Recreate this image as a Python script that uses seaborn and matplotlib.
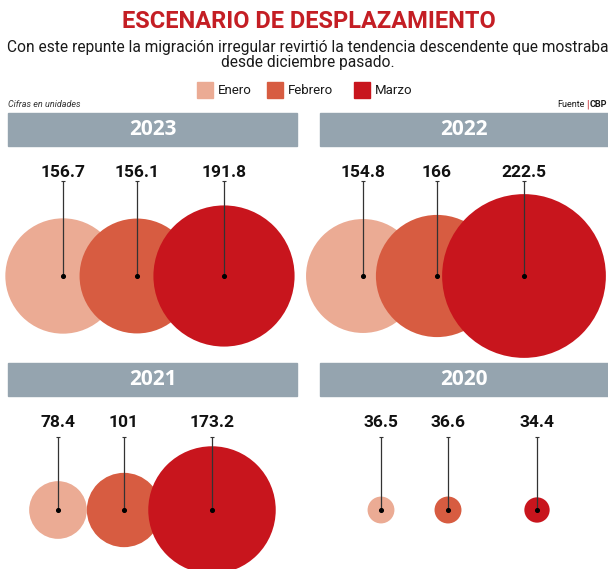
import numpy as np
import pandas as pd
import matplotlib
matplotlib.use("Agg")
import matplotlib.pyplot as plt
import seaborn as sns
from matplotlib.patches import Rectangle

# data (values in thousands, as printed)
years = ["2023", "2022", "2021", "2020"]
months = ["Enero", "Febrero", "Marzo"]
enero = [156.7, 154.8, 78.4, 36.5]
febrero = [156.1, 166, 101, 36.6]
marzo = [191.8, 222.5, 173.2, 34.4]

title = "ESCENARIO DE DESPLAZAMIENTO"
subtitle = ("Con este repunte la migración irregular revirtió la tendencia descendente que mostraba\n"
            "desde diciembre pasado.")

month_colors = {"Enero": "#EBAB94", "Febrero": "#D75C41", "Marzo": "#C8151D"}

# layout (pixels, figure is 608x569)
W, H = 608, 569
panel_origin = {"2023": (0, 110), "2022": (304, 110), "2021": (0, 360), "2020": (304, 360)}
slot_x = {"2023": [63, 137, 224], "2022": [59, 133, 220],
          "2021": [58, 124, 212], "2020": [77, 144, 233]}
bar_x = {"2023": (8, 297), "2022": (16, 304), "2021": (8, 297), "2020": (16, 304)}
center_dy = {"2023": 166, "2022": 166, "2021": 150, "2020": 150}
label_dy = 62
line_top_dy = {"2023": 71, "2022": 71, "2021": 77, "2020": 77}
K = 0.368  # radius in px per unit

FONT = ["Roboto", "DejaVu Sans"]

sns.set_theme(style="white")
plt.rcParams["font.family"] = FONT

rows = []
for i, yr in enumerate(years):
    ox, oy = panel_origin[yr]
    for j, (m, vals) in enumerate(zip(months, [enero, febrero, marzo])):
        rows.append({"year": yr, "month": m, "value": vals[i],
                     "x": ox + slot_x[yr][j], "y": oy + center_dy[yr],
                     "top": oy + line_top_dy[yr], "label_y": oy + label_dy})
df = pd.DataFrame(rows)

px2pt = 72 / 100
size_map = {v: (2 * K * v * px2pt) ** 2 for v in df["value"]}

fig = plt.figure(figsize=(W / 100, H / 100), dpi=100)
ax = fig.add_axes([0, 0, 1, 1])

sns.scatterplot(data=df, x="x", y="y", hue="month", palette=month_colors,
                size="value", sizes=size_map, legend=False, linewidth=0,
                ax=ax, zorder=2)

# header bars
for yr in years:
    ox, oy = panel_origin[yr]
    x0, x1 = bar_x[yr]
    ax.add_patch(Rectangle((ox + x0, oy + 3), x1 - x0, 33, color="#95A4AF", zorder=1))
    ax.text(ox + (x0 + x1) / 2, oy + 19.5, yr, ha="center", va="center",
            fontsize=15, fontweight="bold", color="white", family=["Open Sans", "DejaVu Sans"])

# leader lines, dots and value labels
ax.vlines(df["x"], df["top"], df["y"], color="#333333", lw=0.9, zorder=3)
ax.scatter(df["x"], df["y"], s=7, color="black", zorder=4)
ax.scatter(df["x"], df["top"], s=10, marker="_", color="#333333", lw=0.8, zorder=4)
for _, r in df.iterrows():
    ax.text(r["x"], r["label_y"], f"{r['value']:g}", ha="center", va="center",
            fontsize=12.5, fontweight="bold", color="#111111")

# titles
ax.text(309, 21, title, ha="center", va="center", fontsize=17,
        fontweight="bold", color="#C41E24")
ax.text(308, 55, subtitle, ha="center", va="center", fontsize=11.2,
        color="#1a1a1a", linespacing=1.0)

# legend
for m, sx in zip(months, [197, 267, 354]):
    ax.add_patch(Rectangle((sx, 82), 16, 16, color=month_colors[m]))
    ax.text(sx + 21, 90.5, m, ha="left", va="center", fontsize=9.5, color="#1a1a1a")

ax.text(8, 104, "Cifras en unidades", ha="left", va="center", fontsize=6.5,
        style="italic", color="#333333")
ax.text(584.5, 104, "Fuente", ha="right", va="center", fontsize=6.5, color="#1a1a1a")
ax.text(587, 104, "|", ha="center", va="center", fontsize=7, color="#C41E24")
ax.text(607, 104, "CBP", ha="right", va="center", fontsize=6.5,
        fontweight="bold", color="#1a1a1a")

ax.set_xlim(0, W)
ax.set_ylim(H, 0)
ax.axis("off")

fig.savefig("out.png", dpi=100)
